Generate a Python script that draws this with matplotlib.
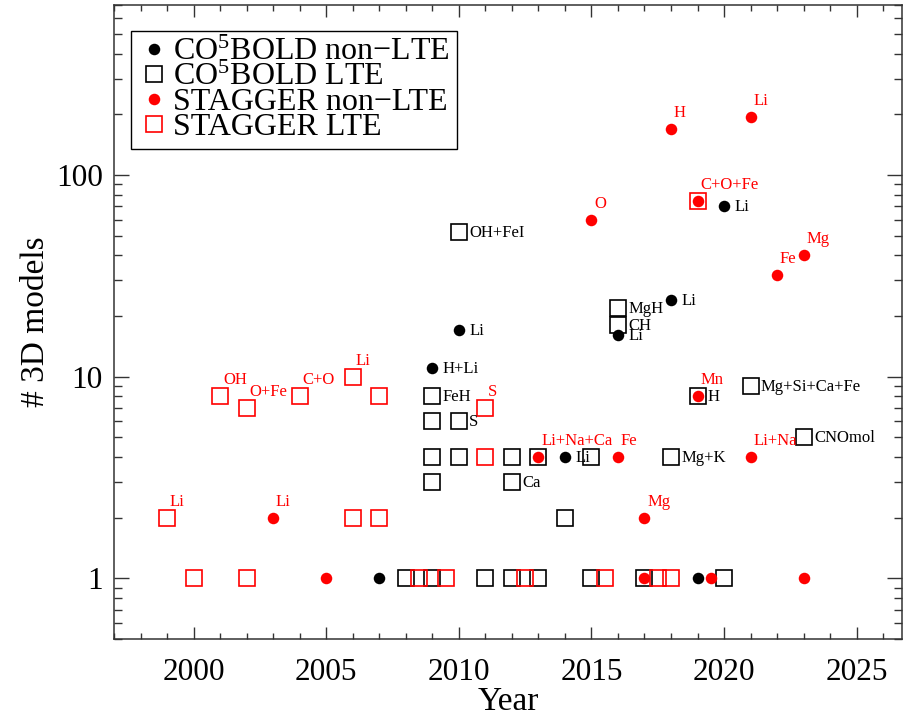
import numpy as np
import matplotlib
matplotlib.use('Agg')
import matplotlib.pyplot as plt
from matplotlib.ticker import LogLocator, NullFormatter, MultipleLocator

plt.rcParams['font.family'] = ['Liberation Serif', 'DejaVu Serif']
plt.rcParams['mathtext.fontset'] = 'custom'
plt.rcParams['mathtext.rm'] = 'Liberation Serif'
plt.rcParams['mathtext.it'] = 'Liberation Serif:italic'

# CO5BOLD non-LTE (black dots)
c5_nlte_year = [2007, 2009, 2010, 2014, 2016, 2018, 2019, 2020]
c5_nlte_n = [1, 11, 17, 4, 16, 24, 1, 70]
c5_nlte_lab = ['', 'H+Li', 'Li', 'Li', 'Li', 'Li', '', 'Li']

# CO5BOLD LTE (black squares)
c5_lte_year = [2008, 2009, 2011, 2012, 2013, 2015, 2017, 2020,
               2009, 2009, 2009, 2009, 2010, 2010, 2010, 2012, 2012,
               2013, 2014, 2015, 2016, 2016, 2018, 2019, 2021, 2023]
c5_lte_n = [1, 1, 1, 1, 1, 1, 1, 1,
            8, 6, 4, 3, 52, 6, 4, 4, 3,
            4, 2, 4, 22, 18, 4, 8, 9, 5]
c5_lte_lab = ['', '', '', '', '', '', '', '',
              'FeH', '', '', '', 'OH+FeI', 'S', '', '', 'Ca',
              '', '', '', 'MgH', 'CH', 'Mg+K', 'H', 'Mg+Si+Ca+Fe', 'CNOmol']

# STAGGER non-LTE (red dots)
st_nlte_year = [2003, 2005, 2013, 2015, 2016, 2017, 2017, 2018,
                2019, 2019, 2019.5, 2021, 2021, 2022, 2023, 2023]
st_nlte_n = [2, 1, 4, 60, 4, 2, 1, 170, 74, 8, 1, 195, 4, 32, 40, 1]
st_nlte_lab = ['Li', '', 'Li+Na+Ca', 'O', 'Fe', 'Mg', '', 'H',
               'C+O+Fe', 'Mn', '', 'Li', 'Li+Na', 'Fe', 'Mg', '']

# STAGGER LTE (red squares)
st_lte_year = [1999, 2000, 2001, 2002, 2002, 2004, 2006, 2006, 2007, 2007,
               2008.5, 2009.5, 2011, 2011, 2012.5, 2015.5, 2017.5, 2018, 2019]
st_lte_n = [2, 1, 8, 7, 1, 8, 10, 2, 8, 2, 1, 1, 7, 4, 1, 1, 1, 1, 74]
st_lte_lab = ['Li', '', 'OH', 'O+Fe', '', 'C+O', 'Li', '', '', '',
              '', '', 'S', '', '', '', '', '', '']

fig = plt.figure(figsize=(9.08, 7.19), dpi=100)
ax = fig.add_axes([0.1256, 0.1113, 0.8675, 0.8823])

sq = dict(marker='s', ms=11, mfc='none', mew=1.2, ls='none')
dot = dict(marker='o', ms=8.3, mew=0, ls='none')

h2, = ax.plot(c5_lte_year, c5_lte_n, mec='black', label='CO$^5$BOLD LTE', **sq)
h4, = ax.plot(st_lte_year, st_lte_n, mec='red', label='STAGGER LTE', **sq)
h1, = ax.plot(c5_nlte_year, c5_nlte_n, color='black', label='CO$^5$BOLD non\u2212LTE', **dot)
h3, = ax.plot(st_nlte_year, st_nlte_n, color='red', label='STAGGER non\u2212LTE', **dot)

# labels: black ones to the right, red ones above
for xs, ys, labs in [(c5_nlte_year, c5_nlte_n, c5_nlte_lab),
                     (c5_lte_year, c5_lte_n, c5_lte_lab)]:
    for x, y, t in zip(xs, ys, labs):
        if t:
            ax.annotate(t, (x, y), xytext=(7.5, -3.6), textcoords='offset points',
                        ha='left', va='baseline', fontsize=12, color='black')
for xs, ys, labs in [(st_nlte_year, st_nlte_n, st_nlte_lab),
                     (st_lte_year, st_lte_n, st_lte_lab)]:
    for x, y, t in zip(xs, ys, labs):
        if t:
            ax.annotate(t, (x, y), xytext=(2, 8.6), textcoords='offset points',
                        ha='left', va='baseline', fontsize=12, color='red')

ax.set_yscale('log')
ax.set_xlim(1997, 2026.7)
ax.set_ylim(0.5, 700)
ax.xaxis.set_major_locator(MultipleLocator(5))
ax.xaxis.set_minor_locator(MultipleLocator(1))
ax.set_yticks([1, 10, 100])
ax.set_yticklabels(['1', '10', '100'])
ax.yaxis.set_minor_locator(LogLocator(base=10, subs=np.arange(2, 10)))
ax.yaxis.set_minor_formatter(NullFormatter())

ax.tick_params(which='both', direction='in', top=True, right=True,
               labelsize=22.5, width=1.0, color='#333333')
ax.tick_params(axis='x', which='major', length=8.6, pad=13.5)
ax.tick_params(axis='x', which='minor', length=4.3)
ax.tick_params(axis='y', which='major', length=11, pad=8)
ax.tick_params(axis='y', which='minor', length=6)
for s in ax.spines.values():
    s.set_linewidth(1.1)
    s.set_color('#333333')

ax.set_xlabel('Year', fontsize=24, labelpad=0)
ax.set_ylabel('# 3D models', fontsize=24, labelpad=4)

leg = ax.legend(handles=[h1, h2, h3, h4], loc='upper left',
                bbox_to_anchor=(0.0216, 0.9584), borderaxespad=0,
                fontsize=23, frameon=True, fancybox=False, edgecolor='black',
                framealpha=1, labelspacing=-0.14, handlelength=1.0,
                handletextpad=0.1, borderpad=0.22, numpoints=1)
leg.get_frame().set_linewidth(1.0)

fig.savefig('out.png', dpi=100)
